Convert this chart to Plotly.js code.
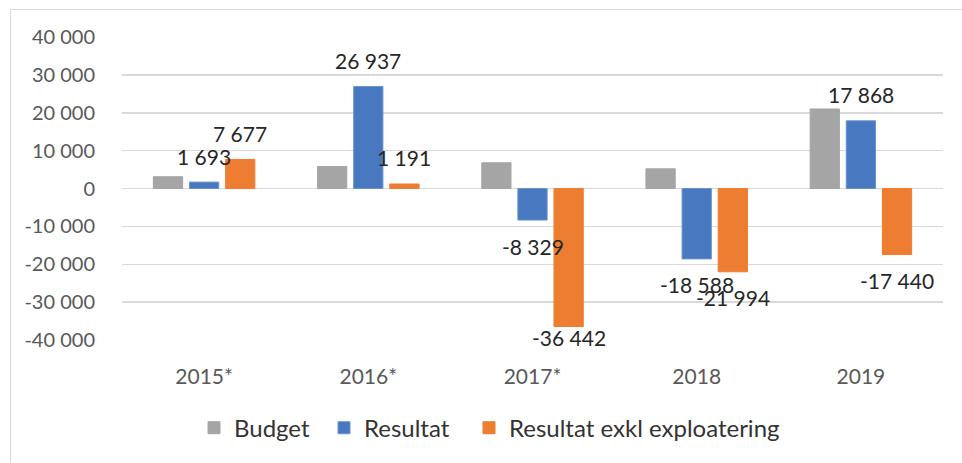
<!DOCTYPE html>
<html><head><meta charset="utf-8">
<script src="https://cdn.plot.ly/plotly-3.0.1.min.js"></script>
<style>body{margin:0;background:#fff}
#frame{position:absolute;left:10px;top:9px;width:1000px;height:500px;border-left:1.5px solid #d9d9d9;border-top:1.5px solid #d9d9d9}
#chart{position:absolute;left:0;top:0;width:962px;height:463px}</style>
</head><body><div id="frame"></div><div id="chart"></div>
<script>
const categories = ["2015*", "2016*", "2017*", "2018", "2019"];
const budget = [3100, 5800, 6800, 5200, 21000];
const resultat = [1693, 26937, -8329, -18588, 17868];
const resultatExkl = [7677, 1191, -36442, -21994, -17440];
const yTickVals = [-40000, -30000, -20000, -10000, 0, 10000, 20000, 30000, 40000];
const yTickText = ["-40 000", "-30 000", "-20 000", "-10 000", "0", "10 000", "20 000", "30 000", "40 000"];
const seriesNames = ["Budget", "Resultat", "Resultat exkl exploatering"];
const colors = ["#A5A5A5", "#4878C0", "#ED7D31"];
const edgeColors = ["#A5A5A5", "#6A93CE", "#ED7D31"];

const W = 962, H = 463;
const M = {l: 122, r: 19, t: 37, b: 120};
const plotW = W - M.l - M.r, plotH = H - M.t - M.b;
const yMin = -40000, yMax = 40000;
const bargap = 0.34, bargroupgap = 0.19;
const xIdx = categories.map((c, i) => i);
const legendIds = ["legend", "legend2", "legend3"];
const legendLeftPx = [194, 324, 469];

function fmt(v) {
  const s = Math.abs(v).toString().replace(/\B(?=(\d{3})+(?!\d))/g, " ");
  return (v < 0 ? "-" : "") + s;
}

const font = "Lato, 'Open Sans', sans-serif";
const traces = [budget, resultat, resultatExkl].map((vals, i) => ({
  type: "bar", x: xIdx, y: vals, name: seriesNames[i], legend: legendIds[i],
  marker: {color: colors[i], line: {width: 1, color: edgeColors[i]}},
  hoverinfo: "skip"
}));

const pxPerUnit = plotH / (yMax - yMin);
const slot = plotW / categories.length * (1 - bargap) / 3;
const annotations = [];
[[resultat, 1], [resultatExkl, 2]].forEach(([vals, si]) => {
  vals.forEach((v, ci) => {
    const barPix = M.t + (yMax - v) * pxPerUnit;
    let labelPix = v >= 0 ? barPix - 26 : barPix + 26;
    labelPix = Math.min(labelPix, M.t + plotH - 3);
    annotations.push({
      x: xIdx[ci], y: v, xref: "x", yref: "y",
      text: fmt(v), showarrow: false,
      xshift: (si - 1) * slot, yshift: barPix - labelPix,
      yanchor: "middle", xanchor: "center",
      font: {family: font, size: 21, color: "#262626"}
    });
  });
});

const layout = {
  width: W, height: H, margin: M,
  paper_bgcolor: "rgba(0,0,0,0)", plot_bgcolor: "rgba(0,0,0,0)",
  barmode: "group", bargap: bargap, bargroupgap: bargroupgap,
  showlegend: true,
  xaxis: {range: [-0.5, categories.length - 0.5], tickvals: xIdx, ticktext: categories,
    showgrid: false, showline: false, zeroline: false, ticks: "outside", ticklen: 18, tickcolor: "rgba(0,0,0,0)",
    tickfont: {family: font, size: 21, color: "#595959"}, fixedrange: true},
  yaxis: {range: [yMin, yMax], tickvals: yTickVals, ticktext: yTickText, showgrid: true,
    gridcolor: "#d9d9d9", gridwidth: 1.5, zeroline: true, zerolinecolor: "#d9d9d9", zerolinewidth: 1.5,
    showline: false, ticks: "outside", ticklen: 22, tickcolor: "rgba(0,0,0,0)",
    tickfont: {family: font, size: 20, color: "#595959"}, fixedrange: true},
  annotations: annotations
};
legendIds.forEach((id, i) => {
  layout[id] = {orientation: "h", x: (legendLeftPx[i] - M.l) / plotW, xanchor: "left",
    y: (M.t + plotH - 432) / plotH, yanchor: "middle", bgcolor: "rgba(0,0,0,0)",
    font: {family: font, size: 24, color: "#333333"}};
});
Plotly.newPlot("chart", traces, layout, {displayModeBar: false, staticPlot: true});
</script></body></html>
